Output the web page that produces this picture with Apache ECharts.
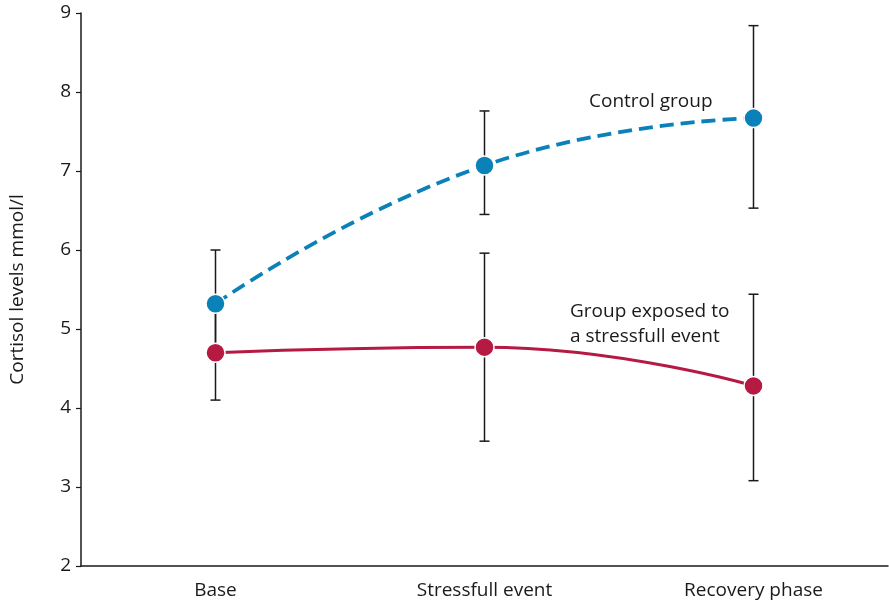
<!DOCTYPE html>
<html><head><meta charset="utf-8">
<script src="https://cdn.jsdelivr.net/npm/echarts@6/dist/echarts.min.js"></script>
<style>html,body{margin:0;padding:0;background:#fff}#c{width:889px;height:604px}</style>
</head><body><div id="c"></div>
<script>
const categories = ['Base', 'Stressfull event', 'Recovery phase'];
const controlValues = [5.32, 7.07, 7.67];
const controlLow = [4.65, 6.45, 6.53];
const controlHigh = [6.0, 7.76, 8.84];
const stressValues = [4.70, 4.77, 4.28];
const stressLow = [4.1, 3.58, 3.08];
const stressHigh = [5.35, 5.96, 5.44];
const yTicks = [2, 3, 4, 5, 6, 7, 8, 9];

const FONT = '"Open Sans"';
const BLUE = '#0a81b8';
const RED = '#b51a42';

function errData(low, high) {
  return categories.map((c, i) => [i, low[i], high[i]]);
}
function renderErr(params, api) {
  const x = api.value(0);
  const lo = api.coord([x, api.value(1)]);
  const hi = api.coord([x, api.value(2)]);
  const cap = 5;
  const st = { stroke: '#1a1a1a', lineWidth: 1.5 };
  return { type: 'group', children: [
    { type: 'line', shape: { x1: lo[0], y1: lo[1], x2: hi[0], y2: hi[1] }, style: st },
    { type: 'line', shape: { x1: lo[0]-cap, y1: lo[1], x2: lo[0]+cap, y2: lo[1] }, style: st },
    { type: 'line', shape: { x1: hi[0]-cap, y1: hi[1], x2: hi[0]+cap, y2: hi[1] }, style: st }
  ]};
}

const chart = echarts.init(document.getElementById('c'));
chart.setOption({
  animation: false,
  backgroundColor: '#fff',
  grid: { left: 78, right: 1, top: 13, bottom: 38 },
  xAxis: {
    type: 'category', data: categories, boundaryGap: true,
    axisLine: { lineStyle: { color: '#1a1a1a', width: 1.5 } },
    axisTick: { length: 6, lineStyle: { color: '#1a1a1a', width: 1.2 } },
    axisLabel: { color: '#1a1a1a', fontSize: 19, fontFamily: FONT, margin: 15 }
  },
  yAxis: {
    type: 'value', min: yTicks[0], max: yTicks[yTicks.length-1], interval: 1,
    name: 'Cortisol levels mmol/l', nameLocation: 'middle', nameGap: 54,
    nameTextStyle: { color: '#1a1a1a', fontSize: 19, fontFamily: FONT },
    splitLine: { show: false },
    axisLine: { show: true, lineStyle: { color: '#1a1a1a', width: 1.5 } },
    axisTick: { show: true, length: 5, lineStyle: { color: '#1a1a1a', width: 1.2 } },
    axisLabel: { color: '#1a1a1a', fontSize: 19, fontFamily: FONT, margin: 10 }
  },
  series: [
    { type: 'custom', renderItem: renderErr, data: errData(controlLow, controlHigh), z: 1, silent: true },
    { type: 'custom', renderItem: renderErr, data: errData(stressLow, stressHigh), z: 1, silent: true },
    { type: 'line', name: 'Control group', data: controlValues, smooth: 0.5, z: 3,
      symbol: 'circle', symbolSize: 19,
      lineStyle: { color: BLUE, width: 3.8, type: [14, 7] },
      itemStyle: { color: BLUE, borderColor: '#fff', borderWidth: 1.5 } },
    { type: 'line', name: 'Group exposed to a stressfull event', data: stressValues, smooth: 0.5, z: 3,
      symbol: 'circle', symbolSize: 19,
      lineStyle: { color: RED, width: 3 },
      itemStyle: { color: RED, borderColor: '#fff', borderWidth: 1.5 } }
  ],
  graphic: [
    { type: 'text', left: 589, top: 92, style: { text: 'Control group', fill: '#1a1a1a', font: '19px ' + FONT } },
    { type: 'text', left: 570, top: 299, style: { text: 'Group exposed to\na stressfull event', fill: '#1a1a1a', font: '19px ' + FONT, lineHeight: 25 } }
  ]
});
</script></body></html>
